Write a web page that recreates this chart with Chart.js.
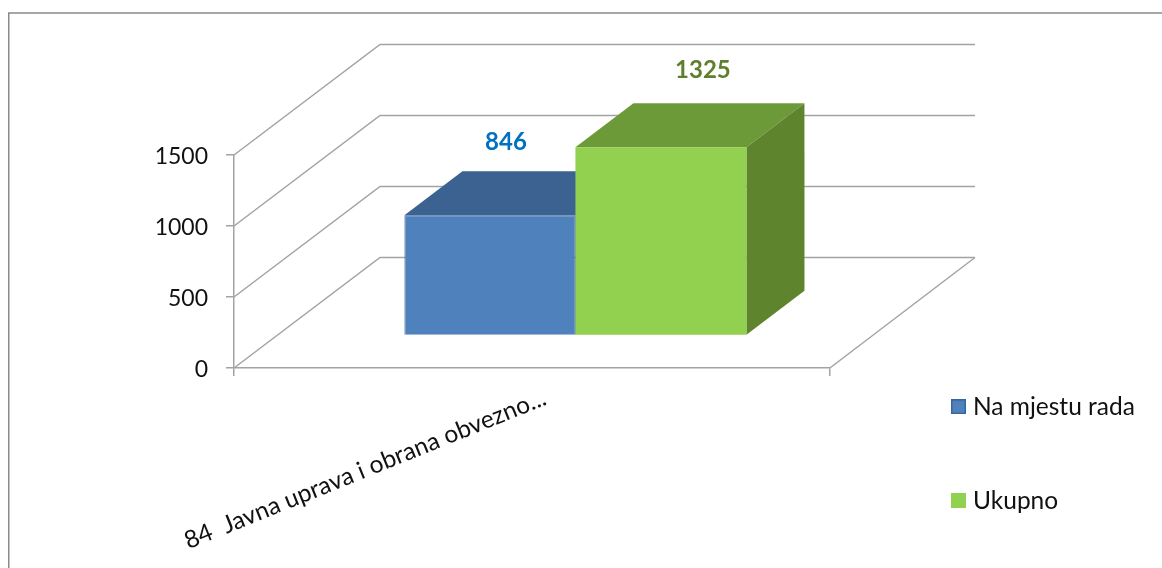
<!DOCTYPE html>
<html>
<head>
<meta charset="utf-8">
<style>html,body{margin:0;padding:0;background:#fff}canvas{display:block}</style>
<script src="https://cdn.jsdelivr.net/npm/chart.js@4"></script>
</head>
<body>
<canvas id="c" width="1162" height="568"></canvas>
<script>
const categories = ["84  Javna uprava i obrana obvezno..."];
const seriesNames = ["Na mjestu rada", "Ukupno"];
const naMjestuRada = [846];
const ukupno = [1325];
const axisMax = 1500;
const axisStep = 500;

const FONT = "Lato";
const GRID = "#a3a3a3";
// 3D projection: depth of the floor, and where bars stand inside it
const WALL = {x: 146, y: -110.5};
const WALL_RIGHT = 975;
const BAR_SHIFT = {x: 43.5, y: -32.5};
const BAR_DEPTH = {x: 58, y: -44};
const looks = [
  {front: "#4f81bd", edge: "#38659a", top: "#3b6290", side: "#3b6290", label: "#0070c0", lx: 16, ly: -73},
  {front: "#92d050", edge: "#92d050", top: "#6d9a38", side: "#5e852e", label: "#5f7f2e", lx: 42, ly: -77}
];

function icon(fill, stroke) {
  const cv = document.createElement("canvas");
  cv.width = 15; cv.height = 15;
  const g = cv.getContext("2d");
  g.fillStyle = fill; g.fillRect(0, 0, 15, 15);
  if (stroke) { g.strokeStyle = stroke; g.lineWidth = 1.5; g.strokeRect(.75, .75, 13.5, 13.5); }
  return cv;
}
const icons = [icon(looks[0].front, looks[0].edge), icon(looks[1].front)];

const scene = {
  id: "scene",
  beforeLayout(chart) {
    chart.legend.afterFit = function () { this.width = 332; };
  },
  afterLayout(chart) {
    const l = chart.legend;
    l.left = 886.75; l.right = 1162; l.top = 325; l.bottom = 900;
  },
  beforeDraw(chart) {
    const c = chart.ctx;
    c.save();
    c.strokeStyle = "#8a8a8a"; c.lineWidth = 1.5;
    c.beginPath(); c.moveTo(8.75, 568); c.lineTo(8.75, 13); c.lineTo(1162, 13); c.stroke();
    c.restore();
  },
  beforeDatasetsDraw(chart) {
    const c = chart.ctx, a = chart.chartArea, ys = chart.scales.y;
    c.save();
    c.strokeStyle = GRID; c.lineWidth = 1.5;
    ys.ticks.forEach(t => {
      const y = ys.getPixelForValue(t.value);
      c.beginPath(); c.moveTo(a.left, y); c.lineTo(a.left + WALL.x, y + WALL.y); c.lineTo(WALL_RIGHT, y + WALL.y); c.stroke();
    });
    c.beginPath(); c.moveTo(a.right, a.bottom); c.lineTo(WALL_RIGHT, a.bottom + WALL.y); c.stroke();
    c.restore();

    c.save();
    c.translate(BAR_SHIFT.x, BAR_SHIFT.y);
    chart.data.datasets.forEach((ds, i) => {
      chart.getDatasetMeta(i).data.forEach(b => {
        const L = b.x - b.width / 2, R = b.x + b.width / 2, T = b.y, B = b.base;
        c.fillStyle = looks[i].top;
        c.beginPath(); c.moveTo(L, T); c.lineTo(L + BAR_DEPTH.x, T + BAR_DEPTH.y); c.lineTo(R + BAR_DEPTH.x, T + BAR_DEPTH.y); c.lineTo(R, T); c.fill();
        c.fillStyle = looks[i].side;
        c.beginPath(); c.moveTo(R, T); c.lineTo(R + BAR_DEPTH.x, T + BAR_DEPTH.y); c.lineTo(R + BAR_DEPTH.x, B + BAR_DEPTH.y); c.lineTo(R, B); c.fill();
      });
    });
  },
  afterDatasetsDraw(chart) {
    const c = chart.ctx;
    c.restore();
    c.save();
    c.font = "bold 24px " + FONT;
    c.textAlign = "center"; c.textBaseline = "middle";
    chart.data.datasets.forEach((ds, i) => {
      chart.getDatasetMeta(i).data.forEach((b, j) => {
        c.fillStyle = looks[i].label;
        c.fillText(String(ds.data[j]), b.x + BAR_SHIFT.x + looks[i].lx, b.y + BAR_SHIFT.y + looks[i].ly);
      });
    });
    c.restore();
  }
};

new Chart(document.getElementById("c"), {
  type: "bar",
  data: {
    labels: categories,
    datasets: [
      {label: seriesNames[0], data: naMjestuRada, backgroundColor: looks[0].front, borderColor: looks[0].edge, borderWidth: 1},
      {label: seriesNames[1], data: ukupno, backgroundColor: looks[1].front, borderWidth: 0}
    ]
  },
  options: {
    responsive: false,
    animation: false,
    events: [],
    layout: {padding: {top: 155, left: 0, right: 74, bottom: 0}},
    datasets: {bar: {barPercentage: 1, categoryPercentage: 0.574}},
    plugins: {
      tooltip: {enabled: false},
      title: {display: false},
      legend: {
        position: "right",
        align: "start",
        labels: {
          font: {family: FONT, size: 24.5},
          color: "#111",
          padding: 69.5,
          usePointStyle: true,
          pointStyleWidth: 4.5,
          boxHeight: 15,
          generateLabels(chart) {
            return Chart.defaults.plugins.legend.labels.generateLabels(chart)
              .map((it, i) => ({...it, pointStyle: icons[i], fontColor: "#111"}));
          }
        }
      }
    },
    scales: {
      x: {
        afterFit(s) { s.height = 200; },
        grid: {display: true, drawOnChartArea: false, drawTicks: true, tickLength: 8, color: GRID, lineWidth: 1.5},
        border: {display: true, color: GRID, width: 1.5},
        ticks: {
          font: {family: FONT, size: 24.5},
          color: "#111",
          minRotation: 22,
          maxRotation: 22,
          labelOffset: 13,
          padding: 7
        }
      },
      y: {
        min: 0,
        max: axisMax,
        afterFit(s) { s.width = 234; },
        grid: {display: true, drawOnChartArea: false, drawTicks: true, tickLength: 8, color: GRID, lineWidth: 1.5},
        border: {display: true, color: GRID, width: 1.5},
        ticks: {
          stepSize: axisStep,
          font: {family: FONT, size: 23},
          color: "#111",
          padding: 18,
          labelOffset: 2,
          callback: v => String(v)
        }
      }
    }
  },
  plugins: [scene]
});
</script>
</body>
</html>
